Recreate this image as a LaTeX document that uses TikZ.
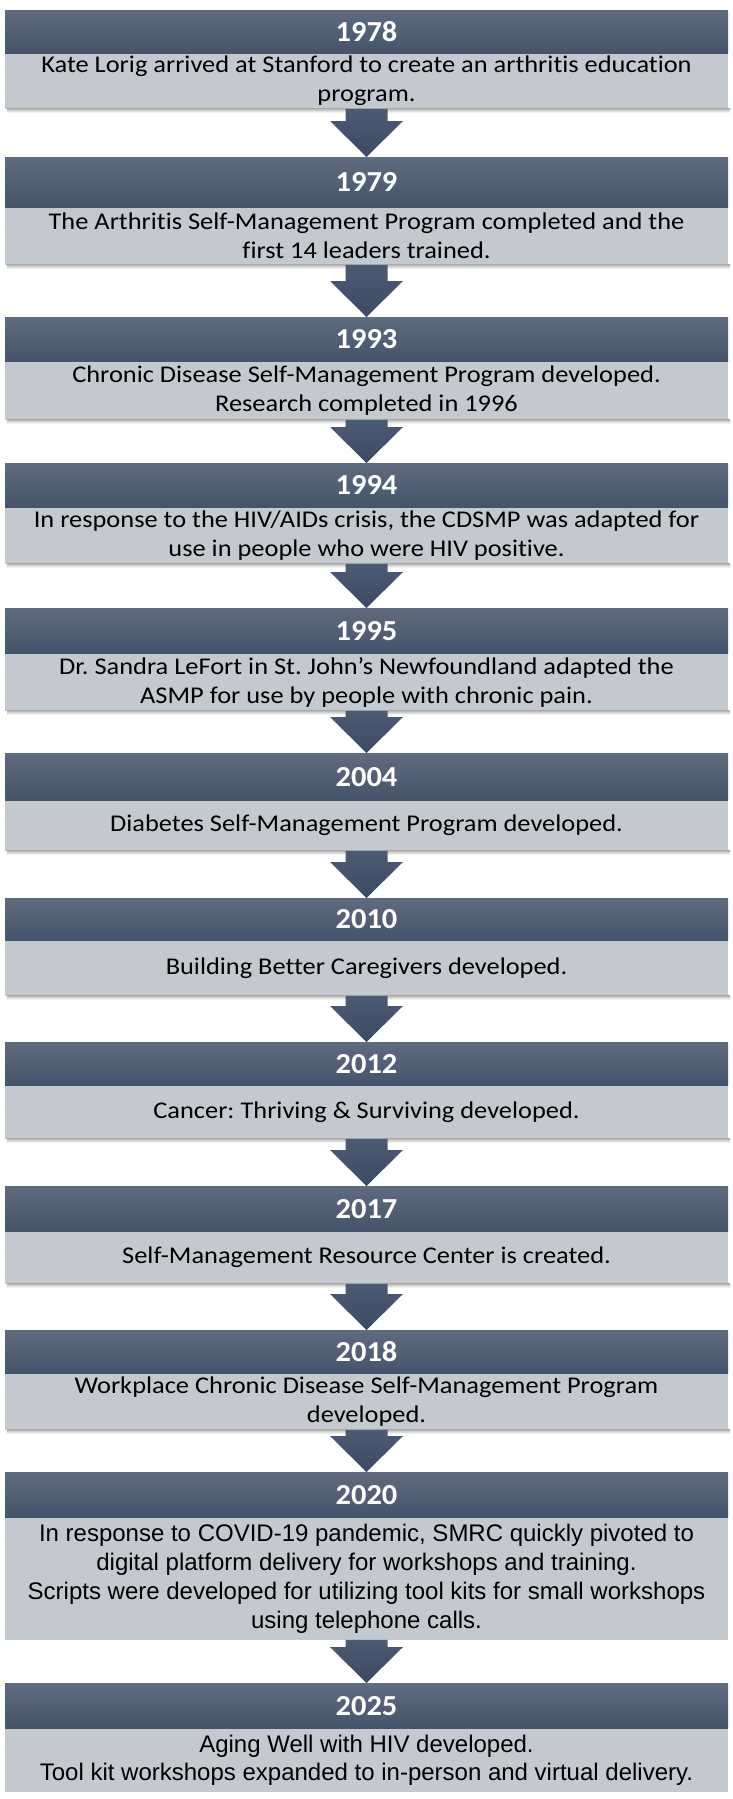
\documentclass[tikz,border=0pt]{standalone}
\usepackage{fontspec}
\newfontfamily\calb[FakeStretch=1.1,RawFeature={-liga;-clig;-calt;-dlig}]{Carlito}
\newfontfamily\calyr[FakeStretch=1.05]{Carlito}
\newfontfamily\aria{Liberation Sans}
\usetikzlibrary{calc}
\frenchspacing
\definecolor{hdrtop}{HTML}{5F6B7E}
\definecolor{hdrbot}{HTML}{45546B}
\definecolor{bodyfill}{HTML}{C4C9CF}
\definecolor{arrtop}{HTML}{4C5B73}
\definecolor{arrbot}{HTML}{3C4B64}
\tikzset{
  x=1pt, y=-1pt,
  hdr/.style={rectangle, inner sep=0pt, minimum width=723pt, anchor=north,
    top color=hdrtop, bottom color=hdrbot, draw=none, text=white,
    font=\calyr\bfseries\fontsize{29}{32}\selectfont},
  bodybox/.style={rectangle, inner sep=0pt, minimum width=723pt, anchor=north,
    fill=bodyfill, draw=none, text=black, align=center,
    font=\calb\fontsize{24}{29}\selectfont},
  arialbody/.style={bodybox, font=\aria\fontsize{24}{29}\selectfont},
  flowarrow/.style={top color=arrtop, bottom color=arrbot, draw=none},
  shadowband/.style={top color=black!28, bottom color=white, draw=none}
}
\newcommand{\flowarr}[2]{%
  \path[flowarrow] ($(#1.south)+(-21,0)$) -- ($(#2.north)+(-21,-36)$)
    -- ($(#2.north)+(-36.5,-36)$) -- (#2.north) -- ($(#2.north)+(36.5,-36)$)
    -- ($(#2.north)+(21,-36)$) -- ($(#1.south)+(21,0)$) -- cycle;}
\newcommand{\shad}[1]{%
  \path[shadowband] ($(#1.south west)+(2,0)$) rectangle ($(#1.south east)+(2,4)$);}
\begin{document}
\begin{tikzpicture}
\useasboundingbox[fill=white] (0,0) rectangle (732,1799);
% 1978
\node[hdr, minimum height=43pt] (h1) at (366.5,10) {1978};
\node[bodybox, minimum height=55pt] (b1) at (h1.south) {Kate Lorig arrived at Stanford to create an arthritis education\\program.};
% 1979
\node[hdr, minimum height=50pt] (h2) at (366.5,157) {1979};
\node[bodybox, minimum height=57pt] (b2) at (h2.south) {The Arthritis Self-Management Program completed and the\\first 14 leaders trained.};
% 1993
\node[hdr, minimum height=44pt] (h3) at (366.5,317) {1993};
\node[bodybox, minimum height=58pt] (b3) at (h3.south) {Chronic Disease Self-Management Program developed.\\Research completed in 1996};
% 1994
\node[hdr, minimum height=44pt] (h4) at (366.5,463) {1994};
\node[bodybox, minimum height=56pt] (b4) at (h4.south) {In response to the HIV/AIDs crisis, the CDSMP was adapted for\\use in people who were HIV positive.};
% 1995
\node[hdr, minimum height=45pt] (h5) at (366.5,608) {1995};
\node[bodybox, minimum height=57pt] (b5) at (h5.south) {Dr. Sandra LeFort in St. John’s Newfoundland adapted the\\ASMP for use by people with chronic pain.};
% 2004
\node[hdr, minimum height=47pt] (h6) at (366.5,753) {2004};
\node[bodybox, minimum height=50pt] (b6) at (h6.south) {Diabetes Self-Management Program developed.};
% 2010
\node[hdr, minimum height=42pt] (h7) at (366.5,898) {2010};
\node[bodybox, minimum height=55pt] (b7) at (h7.south) {Building Better Caregivers developed.};
% 2012
\node[hdr, minimum height=43pt] (h8) at (366.5,1042) {2012};
\node[bodybox, minimum height=53pt] (b8) at (h8.south) {Cancer: Thriving \& Surviving developed.};
% 2017
\node[hdr, minimum height=45pt] (h9) at (366.5,1186) {2017};
\node[bodybox, minimum height=52pt] (b9) at (h9.south) {Self-Management Resource Center is created.};
% 2018
\node[hdr, minimum height=43pt] (h10) at (366.5,1330) {2018};
\node[bodybox, minimum height=56pt] (b10) at (h10.south) {Workplace Chronic Disease Self-Management Program\\developed.};
% 2020
\node[hdr, minimum height=45pt] (h11) at (366.5,1472) {2020};
\node[arialbody, minimum height=122pt] (b11) at (h11.south) {In response to COVID-19 pandemic, SMRC quickly pivoted to\\digital platform delivery for workshops and training.\\Scripts were developed for utilizing tool kits for small workshops\\using telephone calls.};
% 2025
\node[hdr, minimum height=45pt] (h12) at (366.5,1683) {2025};
\node[arialbody, minimum height=63pt, font=\aria\fontsize{24}{28}\selectfont] (b12) at (h12.south) {Aging Well with HIV developed.\\Tool kit workshops expanded to in-person and virtual delivery.};
% shadows
\foreach \n in {1,...,10} {\shad{b\n}}
% arrows
\flowarr{b1}{h2}
\flowarr{b2}{h3}
\flowarr{b3}{h4}
\flowarr{b4}{h5}
\flowarr{b5}{h6}
\flowarr{b6}{h7}
\flowarr{b7}{h8}
\flowarr{b8}{h9}
\flowarr{b9}{h10}
\flowarr{b10}{h11}
\flowarr{b11}{h12}
\end{tikzpicture}
\end{document}
